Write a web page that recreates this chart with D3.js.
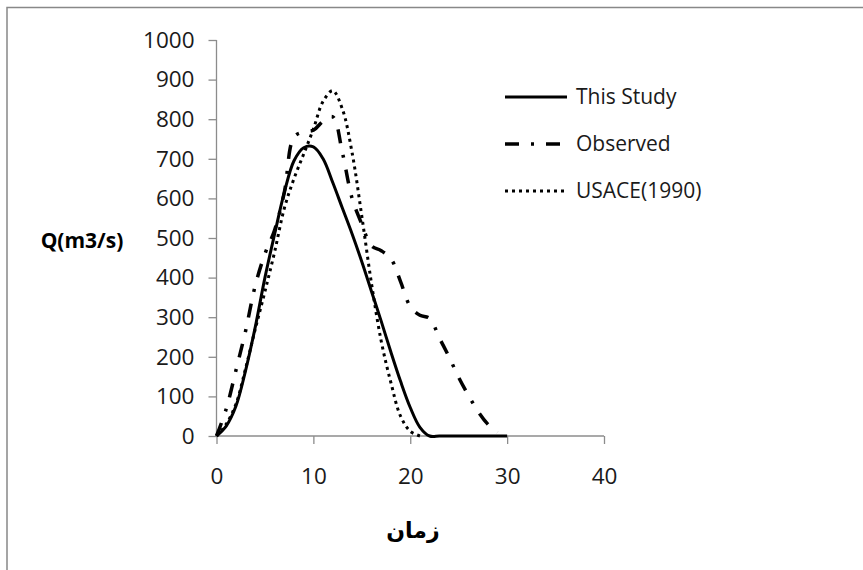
<!DOCTYPE html>
<html>
<head>
<meta charset="utf-8">
<script src="https://cdn.jsdelivr.net/npm/d3@7/dist/d3.min.js"></script>
<style>
  html, body { margin: 0; padding: 0; background: #fff; }
  svg { display: block; }
</style>
</head>
<body>
<svg id="chart" width="863" height="570"></svg>
<script>
// ---- data ----
const timeStudy = [0,1,2,3,4,5,6,7,8,9,10,11,12,13,14,15,16,17,18,19,20,21,22,23,24,25,26,27,28,29,30];
const thisStudy = [0,25,75,165,275,400,510,615,695,728,730,700,640,575,510,440,365,290,212,138,72,22,0,0,0,0,0,0,0,0,0];

const timeObserved = [0,1,2,3,4,5,6,7,8,9,10,11,12,13,14,15,16,17,18,19,20,21,22,23,24,25,26,27,28,29];
const observed = [0,68,165,265,380,460,520,615,755,768,772,795,806,715,600,535,480,468,448,390,327,305,297,248,200,148,103,62,30,9];

const timeUsace = [0,1,2,3,4,5,6,7,8,9,10,11,12,13,14,15,16,17,18,19,20,21];
const usace = [0,30,80,170,270,365,465,575,650,712,775,845,872,825,715,555,385,240,135,50,12,0];

const xTicks = [0,10,20,30,40];
const yTicks = [0,100,200,300,400,500,600,700,800,900,1000];

const seriesNames = ["This Study","Observed","USACE(1990)"];
const xTitle = "زمان";
const yTitle = "Q(m3/s)";

// ---- layout ----
const svg = d3.select("#chart");
const W = 863, H = 570;
const x = d3.scaleLinear().domain([0,40]).range([216.5, 604]);
const y = d3.scaleLinear().domain([0,1000]).range([436, 40]);

// outer chart border
svg.append("rect")
  .attr("x", 7).attr("y", 7.5)
  .attr("width", W + 20).attr("height", H + 20)
  .attr("fill", "none").attr("stroke", "#888").attr("stroke-width", 1.5);

const axisColor = "#8c8c8c";
const font = "'Open Sans', 'Liberation Sans', sans-serif";

// x axis
const xAxis = svg.append("g")
  .attr("transform", `translate(0,${y(0)})`)
  .call(d3.axisBottom(x).tickValues(xTicks).tickSize(8).tickPadding(24).tickFormat(d3.format("d")));
// y axis
const yAxis = svg.append("g")
  .attr("transform", `translate(${x(0)},0)`)
  .call(d3.axisLeft(y).tickValues(yTicks).tickSize(8).tickPadding(14).tickFormat(d3.format("d")));

[xAxis, yAxis].forEach(g => {
  g.select(".domain").attr("stroke", axisColor).attr("stroke-width", 1.3);
  g.selectAll(".tick line").attr("stroke", axisColor).attr("stroke-width", 1.3);
  g.selectAll(".tick text")
    .attr("fill", "#1a1a1a")
    .style("font-family", font)
    .style("font-size", "22.5px");
});
xAxis.select(".domain").attr("d", `M${x(0)},0H${x(40)}`);
yAxis.select(".domain").attr("d", `M0,${y(0)}V${y(1000)}`);

// lines
const curve = d3.curveCatmullRom.alpha(0.5);
const line = (xs, ys) => d3.line().curve(curve)
  .x((d,i) => x(xs[i])).y((d,i) => y(ys[i]))(ys);

const styles = [
  { width: 3, dash: null },
  { width: 3.5, dash: "14,12,3,12" },
  { width: 3, dash: "3,4" }
];

svg.append("path").attr("d", line(timeUsace, usace))
  .attr("fill","none").attr("stroke","#000")
  .attr("stroke-width", styles[2].width).attr("stroke-dasharray", styles[2].dash);
svg.append("path").attr("d", line(timeObserved, observed))
  .attr("fill","none").attr("stroke","#000")
  .attr("stroke-width", styles[1].width).attr("stroke-dasharray", styles[1].dash);
svg.append("path").attr("d", line(timeStudy, thisStudy))
  .attr("fill","none").attr("stroke","#000")
  .attr("stroke-width", styles[0].width);

// legend
const legY = [97, 144, 191];
seriesNames.forEach((name, i) => {
  svg.append("line")
    .attr("x1", 505).attr("x2", 567)
    .attr("y1", legY[i]).attr("y2", legY[i])
    .attr("stroke", "#000").attr("stroke-width", styles[i].width)
    .attr("stroke-dasharray", styles[i].dash);
  svg.append("text")
    .attr("x", 576).attr("y", legY[i])
    .attr("dy", "0.35em")
    .attr("fill", "#1a1a1a")
    .style("font-family", font).style("font-size", "21px")
    .text(name);
});

// axis titles
svg.append("text")
  .attr("x", 82).attr("y", 241).attr("dy", "0.35em")
  .attr("text-anchor", "middle")
  .attr("fill", "#000")
  .style("font-family", font).style("font-size", "21px").style("font-weight", "bold")
  .text(yTitle);

svg.append("text")
  .attr("x", 413).attr("y", 530).attr("dy", "0.35em")
  .attr("text-anchor", "middle")
  .attr("fill", "#000")
  .style("font-family", "'DejaVu Sans', sans-serif").style("font-size", "22px").style("font-weight", "bold")
  .attr("direction", "rtl")
  .text(xTitle);
</script>
</body>
</html>
